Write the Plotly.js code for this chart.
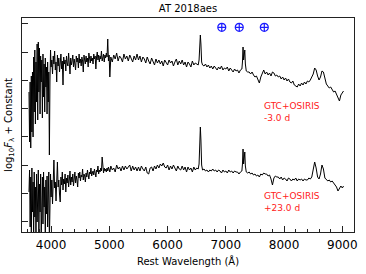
<!DOCTYPE html>
<html>
<head>
<meta charset="utf-8">
<script src="https://cdn.plot.ly/plotly-3.0.1.min.js"></script>
<style>html,body{margin:0;padding:0;background:#fff;}#chart{width:366px;height:274px;}</style>
</head>
<body>
<div id="chart"></div>
<script>
// Rest wavelength grid (Angstrom), shared by both spectra
const wavelength = [
  3620,3630,3640,3650,3660,3670,3680,3690,3700,3710,
  3720,3730,3740,3750,3760,3770,3780,3790,3800,3810,
  3820,3830,3840,3850,3860,3870,3880,3890,3900,3910,
  3920,3930,3940,3950,3960,3970,3980,3990,
  4000,4012,4024,4036,4048,4060,4072,4084,4096,4108,
  4120,4132,4144,4156,4168,4180,4192,4204,4216,4228,
  4240,4252,4264,4276,4288,4300,4312,4324,4336,4348,
  4360,4372,4384,4396,4408,4420,4432,4444,4456,4468,
  4480,4492,4504,4516,4528,4540,4552,4564,4576,4588,
  4600,4612,4624,4636,4648,4660,4672,4684,4696,4708,
  4720,4732,4744,4756,4768,4780,4792,4804,4816,4828,
  4840,4852,4864,4876,4888,4900,4912,4924,4936,4948,
  4960,4972,4984,4996,
  5008,5025,5050,5075,5100,5125,5150,5175,5200,5225,
  5250,5275,5300,5325,5350,5375,5400,5425,5450,5475,
  5500,5525,5550,5575,5600,5625,5650,5675,5700,5725,
  5750,5775,5800,5825,5850,5875,5900,5925,5950,5975,
  6000,6025,6050,6075,6100,6125,6150,6175,6200,6225,
  6250,6275,6300,6325,6350,6375,6400,6425,6450,6475,
  6500,6525,6540,6552,6562,6572,6584,6600,6625,6650,
  6675,6700,6725,6750,6775,6800,6825,6850,6875,6900,
  6925,6950,6975,7000,7025,7050,7075,7100,7125,7150,
  7175,7200,7225,7250,7275,7285,7295,7305,7315,7325,
  7335,7350,7375,7400,7425,7450,7475,7500,7525,7550,
  7575,7600,7625,7650,7675,7700,7725,7750,7775,7800,
  7825,7850,7875,7900,7925,7950,7975,8000,8025,8050,
  8075,8100,8125,8150,8175,8200,8225,8250,8275,8300,
  8325,8350,8375,8400,8425,8450,8475,8500,8525,8550,
  8575,8600,8625,8650,8675,8700,8725,8750,8775,8800,
  8825,8850,8875,8900,8925,8950,8975,9000,9020
];

// log10 F_lambda + constant (arbitrary offset units), -3.0 d spectrum
const fluxMinus3d = [
  140,90,150,84,156,100,160,95,175,120,
  182,108,170,130,188,112,190,140,184,118,
  176,150,172,114,178,135,168,120,174,145,
  165,118,170,130,160,77,150,182,
  165,172,158,176,168,181,162,170,150,177,
  166,174,160,169,178,163,171,147,175,168,
  172,161,176,169,166,179,170,158,174,167,
  171,177,165,173,168,162,176,170,174,164,
  178,169,173,166,175,171,160,177,172,168,
  176,170,174,165,179,172,169,176,171,174,
  168,178,173,176,163,175,180,172,177,170,
  176,173,181,171,175,178,170,177,174,179,
  175,193,171,177,
  155,175,170,177,173,179,171,176,174,170,
  178,173,176,171,177,174,170,176,172,178,
  172,176,170,175,173,169,175,171,168,174,
  170,167,173,169,172,168,171,166,172,169,
  167,172,169,171,166,170,173,167,171,168,
  172,167,170,165,170,168,165,171,167,169,
  168,167,172,185,197,188,170,167,166,168,
  165,167,164,166,163,166,164,162,165,163,
  166,162,164,163,165,161,164,162,160,163,
  161,162,159,162,163,170,185,172,176,182,
  168,161,160,160,158,160,157,155,156,152,
  149,155,159,162,158,160,157,159,156,160,
  159,156,157,155,156,153,155,152,154,151,
  153,150,149,151,147,146,145,148,146,149,
  147,150,148,151,150,152,155,158,164,162,
  156,152,155,161,160,152,148,146,144,145,
  142,140,141,137,134,131,137,139,141
];

// +23.0 d spectrum
const fluxPlus23d = [
  40,62,5,55,-5,64,20,50,-8,60,
  15,45,-5,58,10,40,62,0,48,20,
  58,-6,35,55,8,60,25,45,-3,52,
  18,56,5,40,60,-10,30,58,
  35,52,28,60,72,44,50,31,58,70,
  45,52,38,30,55,47,60,42,53,48,
  58,40,54,49,57,45,52,61,47,55,
  50,58,46,54,60,49,56,52,45,59,
  54,60,51,57,55,63,52,58,56,50,
  59,55,62,57,53,60,58,64,56,59,
  61,57,63,59,55,62,60,66,58,62,
  60,64,61,75,62,59,64,61,63,60,
  64,61,65,62,
  60,66,62,64,60,67,63,65,61,66,
  62,66,63,65,67,61,66,62,65,61,
  65,61,66,63,61,65,59,58,64,65,
  61,66,63,67,64,68,66,69,65,64,
  67,62,66,63,67,64,61,66,63,62,
  66,62,65,60,65,62,64,60,65,62,
  64,63,68,88,105,92,67,62,63,61,
  62,60,62,61,63,61,62,60,62,61,
  59,62,60,61,59,62,60,61,59,61,
  60,60,58,60,61,68,83,68,72,80,
  66,60,59,60,58,59,57,58,56,57,
  55,58,57,59,58,58,56,57,53,47,
  54,56,55,55,53,55,52,54,53,51,
  54,53,51,53,52,54,51,53,52,53,
  51,53,52,52,54,53,55,62,70,64,
  55,53,58,67,63,54,52,51,52,50,
  51,49,48,45,41,43,46,44,46
];

// Telluric band markers (Angstrom)
const telluric = [6930, 7230, 7660];

// Labels
const labels = ["GTC+OSIRIS<br>-3.0 d", "GTC+OSIRIS<br>+23.0 d"];

if (wavelength.length !== fluxMinus3d.length || wavelength.length !== fluxPlus23d.length) {
  throw new Error("length mismatch " + wavelength.length + " " + fluxMinus3d.length + " " + fluxPlus23d.length);
}

const traces = [
  {x: wavelength, y: fluxMinus3d, type: 'scatter', mode: 'lines',
   line: {color: '#000', width: 1}, hoverinfo: 'skip'},
  {x: wavelength, y: fluxPlus23d, type: 'scatter', mode: 'lines',
   line: {color: '#000', width: 1}, hoverinfo: 'skip'},
  {x: telluric, y: telluric.map(() => 204.7), type: 'scatter', mode: 'markers',
   marker: {symbol: 'circle-cross-open', size: 8, color: '#1a1aff', line: {width: 1.2, color: '#1a1aff'}},
   hoverinfo: 'skip', cliponaxis: false}
];

const layout = {
  width: 366, height: 274,
  margin: {l: 22, r: 12, t: 18, b: 42, pad: 0},
  paper_bgcolor: '#fff', plot_bgcolor: '#fff',
  font: {family: 'DejaVu Sans', size: 10, color: '#000'},
  showlegend: false,
  title: {text: 'AT 2018aes', x: 0.5, xref: 'paper', xanchor: 'center',
          y: 1 - 8 / 274, yref: 'container', yanchor: 'middle',
          font: {family: 'DejaVu Sans', size: 10, color: '#000'}},
  xaxis: {
    range: [3500, 9200], tickmode: 'linear', tick0: 4000, dtick: 1000,
    ticks: 'inside', ticklen: 6, tickwidth: 1, tickcolor: '#222',
    ticklabelstandoff: 2,
    minor: {dtick: 200, ticks: 'inside', ticklen: 3, tickwidth: 1, tickcolor: '#222', showgrid: false},
    showline: true, linecolor: '#222', linewidth: 1, mirror: true,
    showgrid: false, zeroline: false, automargin: false,
    tickfont: {family: 'DejaVu Sans', size: 12, color: '#000'},
    title: {text: 'Rest Wavelength (Å)', font: {family: 'DejaVu Sans', size: 10, color: '#000'}, standoff: 6}
  },
  yaxis: {
    range: [0, 214], tickmode: 'linear', tick0: 10.3, dtick: 28.25,
    ticks: 'inside', ticklen: 6, tickwidth: 1, tickcolor: '#222',
    showticklabels: false,
    showline: true, linecolor: '#222', linewidth: 1, mirror: true,
    showgrid: false, zeroline: false, automargin: false,
    title: {text: 'log<sub>10</sub><i>F</i><sub>λ</sub> + Constant',
            font: {family: 'DejaVu Sans', size: 10, color: '#000'}, standoff: 6}
  },
  annotations: [
    {x: 7622, y: 120.5, xref: 'x', yref: 'y', text: labels[0], showarrow: false,
     xanchor: 'left', yanchor: 'middle', align: 'left',
     font: {family: 'DejaVu Sans', size: 9, color: '#ff2020'}},
    {x: 7622, y: 30.5, xref: 'x', yref: 'y', text: labels[1], showarrow: false,
     xanchor: 'left', yanchor: 'middle', align: 'left',
     font: {family: 'DejaVu Sans', size: 9, color: '#ff2020'}}
  ]
};

Plotly.newPlot('chart', traces, layout, {staticPlot: true, displayModeBar: false});
</script>
</body>
</html>
